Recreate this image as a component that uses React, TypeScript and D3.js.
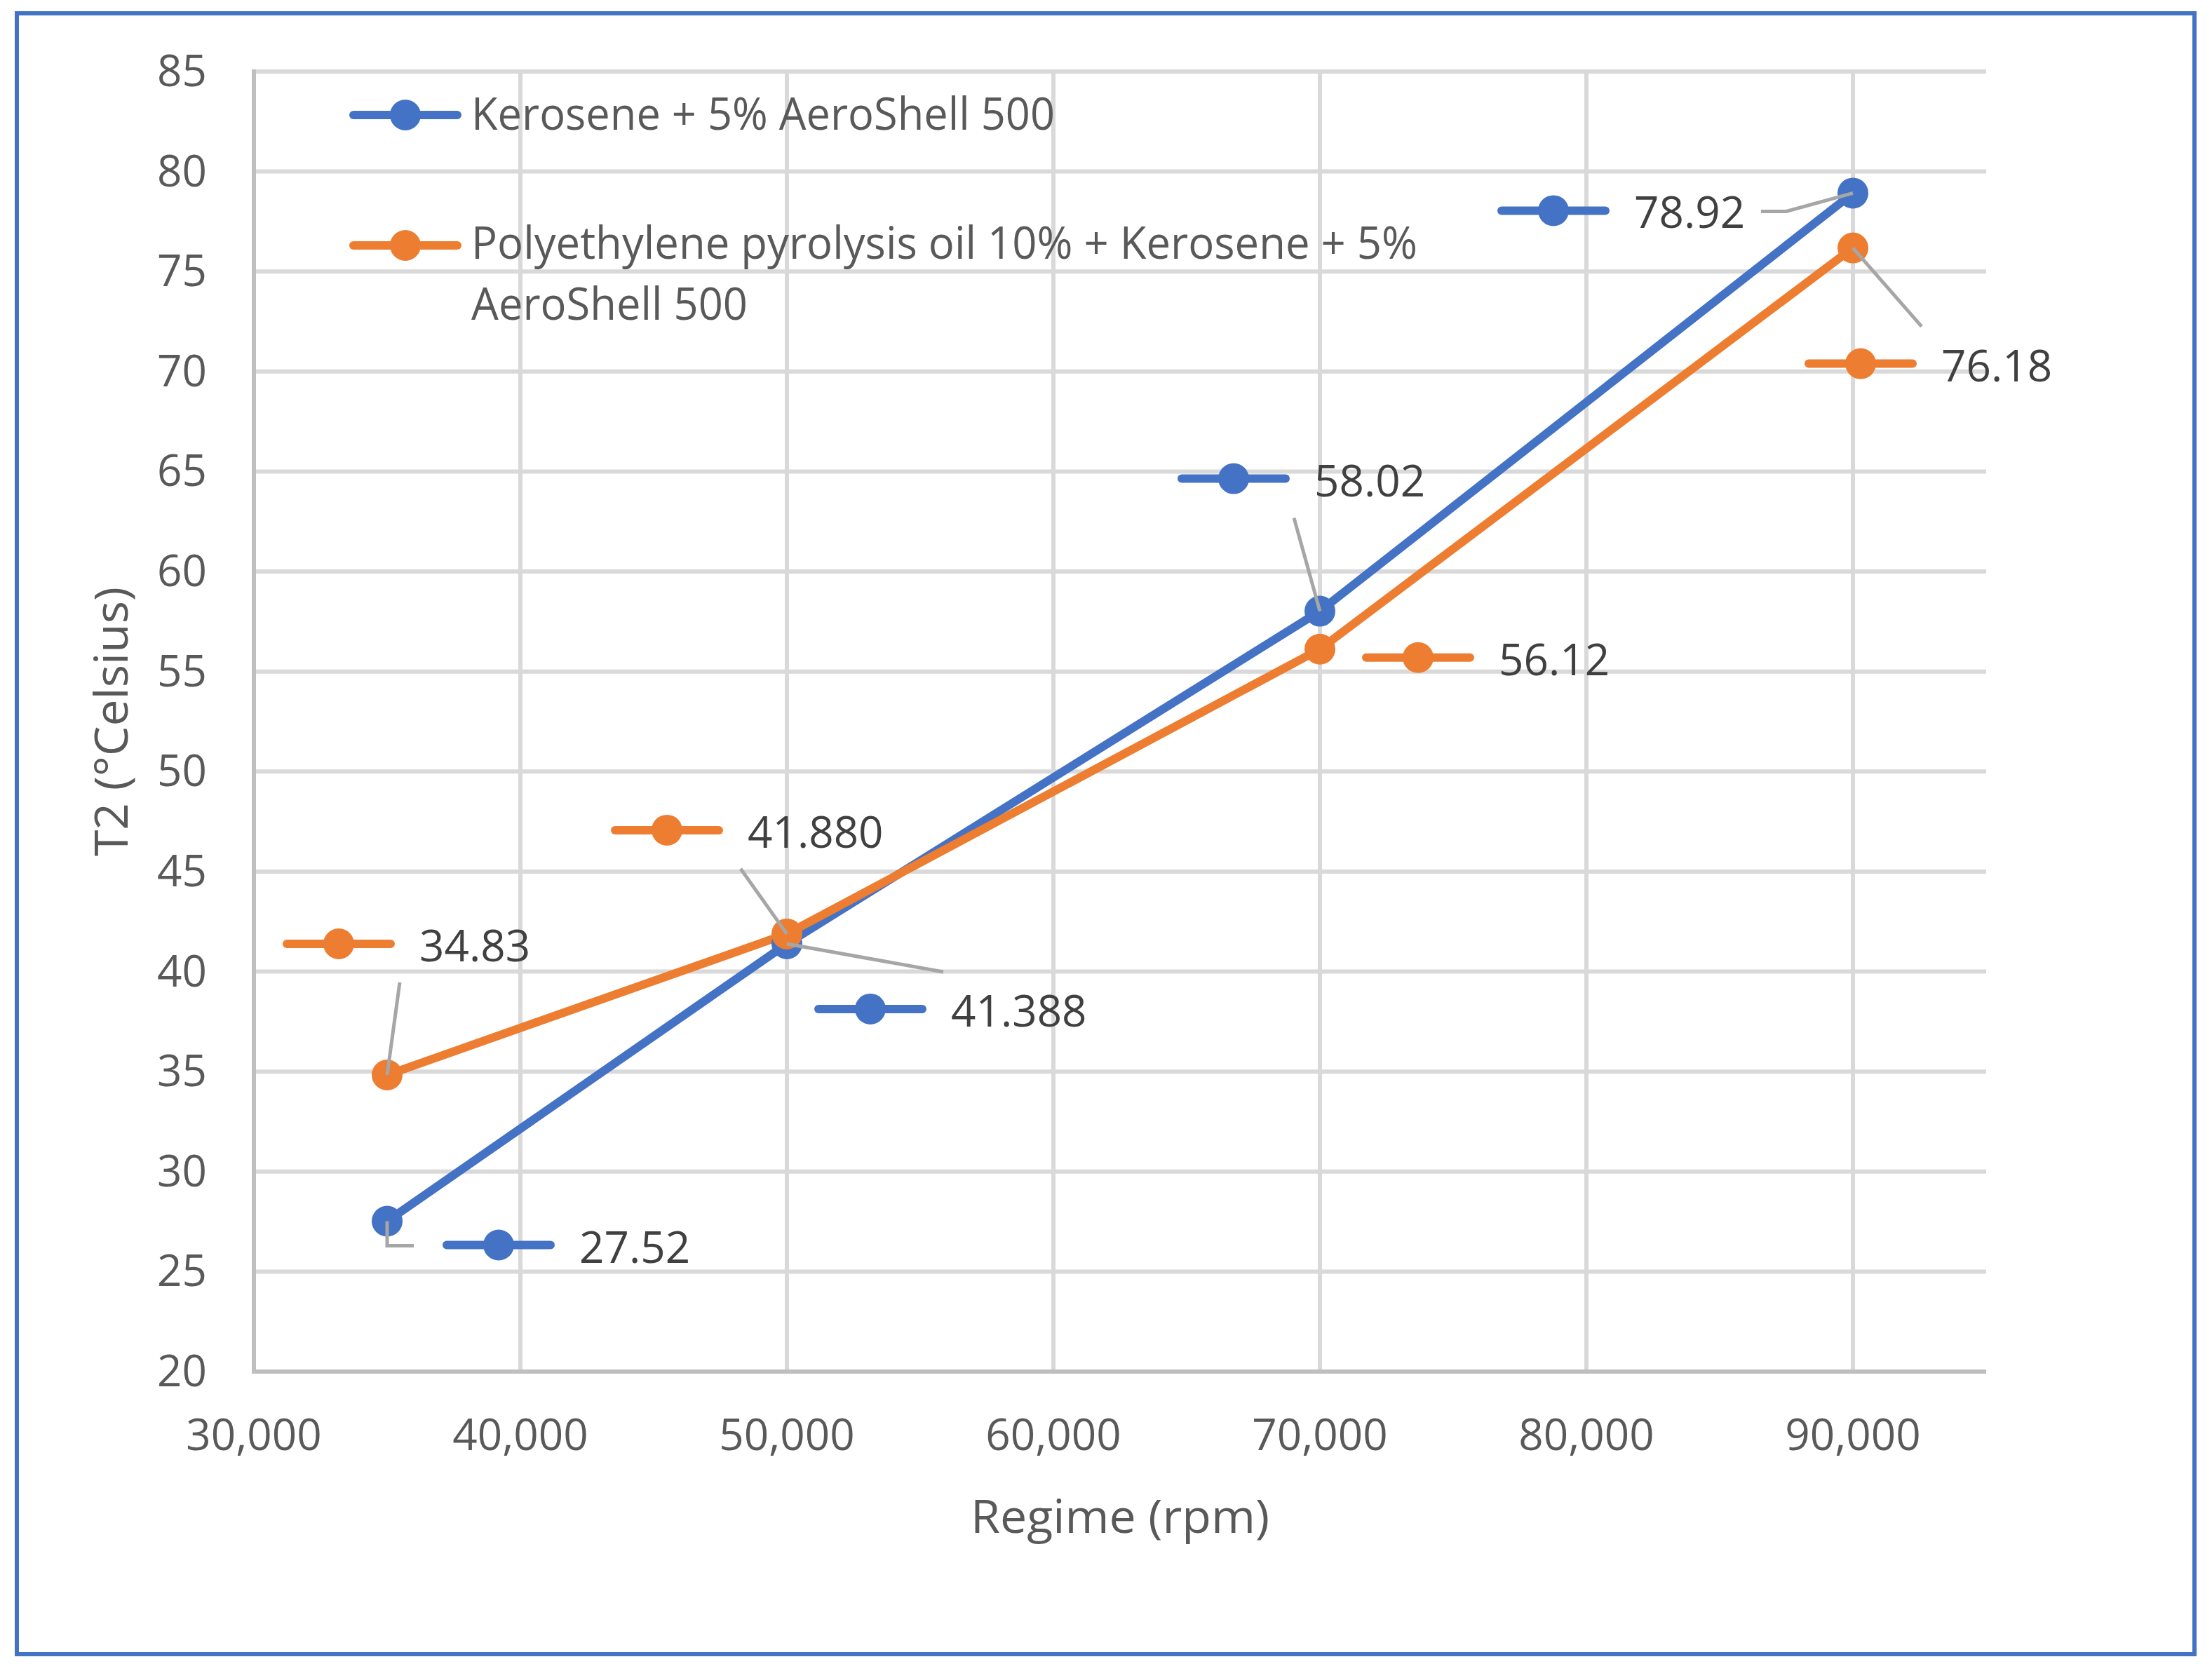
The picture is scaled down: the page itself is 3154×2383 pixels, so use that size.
import React from "react";
import * as d3 from "d3";

// ---------- data ----------
const regimes = [35000, 50000, 70000, 90000];
const seriesNames = [
  "Kerosene + 5% AeroShell 500",
  "Polyethylene pyrolysis oil 10% + Kerosene + 5% AeroShell 500",
];
const keroseneT2 = [27.52, 41.388, 58.02, 78.92];
const pyrolysisT2 = [34.83, 41.88, 56.12, 76.18];
const keroseneLabels = ["27.52", "41.388", "58.02", "78.92"];
const pyrolysisLabels = ["34.83", "41.880", "56.12", "76.18"];
const xTicks = [30000, 40000, 50000, 60000, 70000, 80000, 90000];
const yTicks = [20, 25, 30, 35, 40, 45, 50, 55, 60, 65, 70, 75, 80, 85];
const xTitle = "Regime (rpm)";
const yTitle = "T2 (°Celsius)";

// ---------- layout (pixel offsets of the data-label boxes, relative to their point) ----------
const keroseneLabelOffsets = [
  [159, 34],
  [119, 93],
  [-123, -189],
  [-427, 25],
];
const pyrolysisLabelOffsets = [
  [-69, -187],
  [-171, -148],
  [140, 12],
  [11, 165],
];
const keroseneLeaders = [
  [[0, 0], [0, 35], [38, 35]],
  [[0, 0], [223, 40]],
  [[0, 0], [-37, -133]],
  [[0, 0], [-95, 26], [-131, 26]],
];
const pyrolysisLeaders = [
  [[0, 0], [18, -132]],
  [[0, 0], [-66, -93]],
  null,
  [[0, 0], [98, 112]],
];

const W = 3154;
const H = 2383;
const BLUE = "#4472C4";
const ORANGE = "#ED7D31";
const FONT = "'Open Sans', 'Noto Sans', sans-serif";
const FS = 62;

export default function App() {
  const x = d3.scaleLinear().domain([30000, 95000]).range([362, 2832]);
  const y = d3.scaleLinear().domain([20, 85]).range([1956, 102]);
  const fmt = d3.format(",");
  const line = d3
    .line<[number, number]>()
    .x((d) => x(d[0]))
    .y((d) => y(d[1]));

  const series = [
    { name: seriesNames[0], vals: keroseneT2, labels: keroseneLabels, offs: keroseneLabelOffsets, leaders: keroseneLeaders, color: BLUE },
    { name: seriesNames[1], vals: pyrolysisT2, labels: pyrolysisLabels, offs: pyrolysisLabelOffsets, leaders: pyrolysisLeaders, color: ORANGE },
  ];

  const Key = ({ cx, cy, color }: { cx: number; cy: number; color: string }) => (
    <g>
      <line x1={cx - 74} x2={cx + 74} y1={cy} y2={cy} stroke={color} strokeWidth={12} strokeLinecap="round" />
      <circle cx={cx} cy={cy} r={22} fill={color} />
    </g>
  );

  const [x0, x1] = x.range();
  const [yb, yt] = y.range();

  return (
    <>
      <style>{`body{margin:0}`}</style>
      <svg width={W} height={H} viewBox={`0 0 ${W} ${H}`} style={{ display: "block", background: "#fff" }}>
        <rect x={0} y={0} width={W} height={H} fill="#fff" />
        <rect x={24} y={19} width={3105} height={2340} fill="none" stroke={BLUE} strokeWidth={6} />

        {/* gridlines */}
        {yTicks.filter((t) => t > 20).map((t) => (
          <line key={"gy" + t} x1={x0} x2={x1} y1={y(t)} y2={y(t)} stroke="#D9D9D9" strokeWidth={6} />
        ))}
        {xTicks.filter((t) => t > 30000).map((t) => (
          <line key={"gx" + t} x1={x(t)} x2={x(t)} y1={yt} y2={yb} stroke="#D9D9D9" strokeWidth={6} />
        ))}
        {/* axes */}
        <line x1={x0} x2={x0} y1={yt - 3} y2={yb} stroke="#BFBFBF" strokeWidth={6} />
        <line x1={x0 - 3} x2={x1} y1={yb} y2={yb} stroke="#BFBFBF" strokeWidth={6} />

        {/* tick labels */}
        {yTicks.map((t) => (
          <text key={"ty" + t} x={295} y={y(t) + 21} textAnchor="end" fontFamily={FONT} fontSize={FS} fill="#595959">
            {t}
          </text>
        ))}
        {xTicks.map((t) => (
          <text key={"tx" + t} x={x(t)} y={2068} textAnchor="middle" fontFamily={FONT} fontSize={FS} fill="#595959">
            {fmt(t)}
          </text>
        ))}

        {/* axis titles */}
        <text x={(x0 + x1) / 2} y={2186} textAnchor="middle" fontFamily={FONT} fontSize={FS + 4} fill="#595959" textLength={426} lengthAdjust="spacingAndGlyphs">
          {xTitle}
        </text>
        <text transform={`translate(182,${(yt + yb) / 2}) rotate(-90)`} textAnchor="middle" fontFamily={FONT} fontSize={FS + 4} fill="#595959" textLength={384} lengthAdjust="spacingAndGlyphs">
          {yTitle}
        </text>

        {/* series lines */}
        {series.map((s) => (
          <path
            key={"l" + s.name}
            d={line(regimes.map((r, i) => [r, s.vals[i]] as [number, number])) || ""}
            fill="none"
            stroke={s.color}
            strokeWidth={12}
            strokeLinejoin="round"
            strokeLinecap="round"
          />
        ))}
        {series.map((s) =>
          regimes.map((r, i) => <circle key={"m" + s.name + i} cx={x(r)} cy={y(s.vals[i])} r={22} fill={s.color} />)
        )}

        {/* leader lines */}
        {series.map((s) =>
          regimes.map((r, i) => {
            const L = s.leaders[i];
            if (!L) return null;
            const px = x(r);
            const py = y(s.vals[i]);
            return (
              <polyline
                key={"ld" + s.name + i}
                points={L.map((p) => `${px + p[0]},${py + p[1]}`).join(" ")}
                fill="none"
                stroke="#A6A6A6"
                strokeWidth={5}
              />
            );
          })
        )}

        {/* data labels with legend keys */}
        {series.map((s) =>
          regimes.map((r, i) => {
            const cx = x(r) + s.offs[i][0];
            const cy = y(s.vals[i]) + s.offs[i][1];
            return (
              <g key={"dl" + s.name + i}>
                <Key cx={cx} cy={cy} color={s.color} />
                <text x={cx + 115} y={cy + 25} fontFamily={FONT} fontSize={FS} fill="#404040">
                  {s.labels[i]}
                </text>
              </g>
            );
          })
        )}

        {/* legend */}
        <Key cx={578} cy={164} color={BLUE} />
        <text x={672} y={185} fontFamily={FONT} fontSize={FS + 2} fill="#595959" textLength={832} lengthAdjust="spacingAndGlyphs">
          {seriesNames[0]}
        </text>
        <Key cx={578} cy={350} color={ORANGE} />
        <text x={672} y={369} fontFamily={FONT} fontSize={FS + 2} fill="#595959" textLength={1349} lengthAdjust="spacingAndGlyphs">
          {"Polyethylene pyrolysis oil 10% + Kerosene + 5%"}
        </text>
        <text x={672} y={456} fontFamily={FONT} fontSize={FS + 2} fill="#595959" textLength={394} lengthAdjust="spacingAndGlyphs">
          {"AeroShell 500"}
        </text>
      </svg>
    </>
  );
}
